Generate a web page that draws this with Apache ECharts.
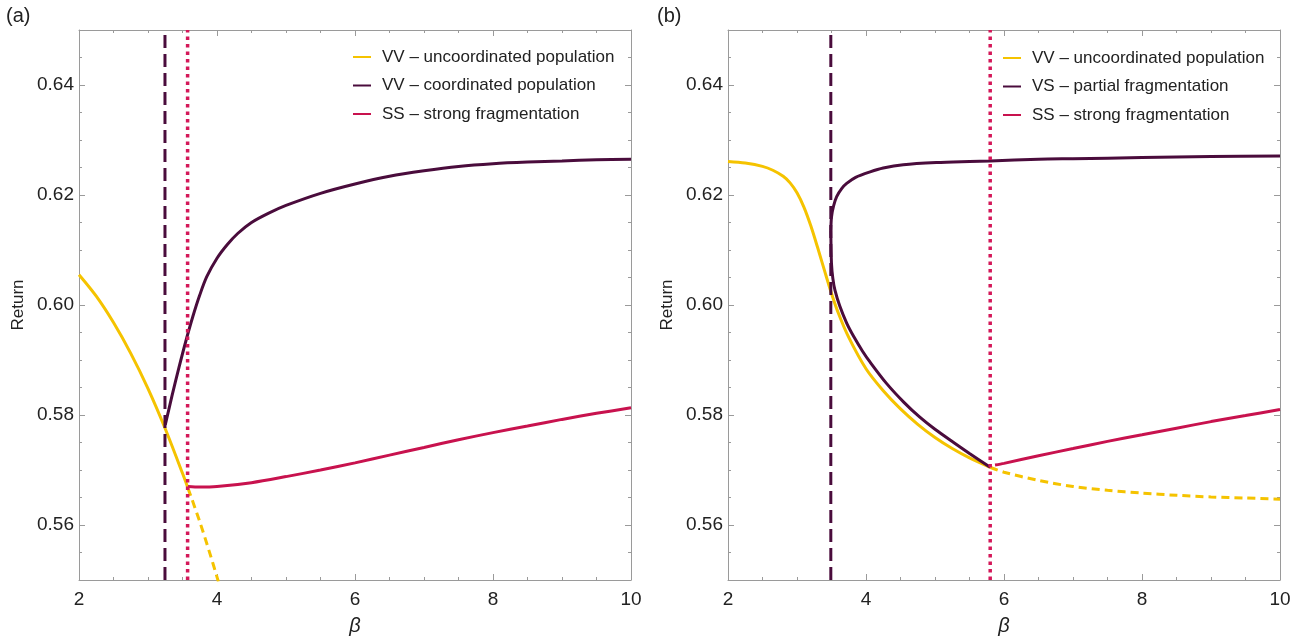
<!DOCTYPE html>
<html>
<head>
<meta charset="utf-8">
<script src="https://cdn.jsdelivr.net/npm/echarts@6/dist/echarts.min.js"></script>
<style>
  html, body { margin: 0; padding: 0; background: #fff; }
  #chart { width: 1301px; height: 644px; }
</style>
</head>
<body>
<div id="chart"></div>
<script>
// tick positions
const yMajorTicks = [0.56, 0.58, 0.60, 0.62, 0.64]
const yMinorTicks = [0.555, 0.565, 0.57, 0.575, 0.585, 0.59, 0.595, 0.605, 0.61, 0.615, 0.625, 0.63, 0.635, 0.645]

// panel (a)
const aBetaUnc = [2, 2.25, 2.5, 2.75, 3, 3.25, 3.5, 3.58]
const aRetUnc = [0.6055, 0.6016, 0.5968, 0.5912, 0.5848, 0.5775, 0.5694, 0.5667]
const aBetaUncDash = [3.58, 3.75, 3.9, 4.02]
const aRetUncDash = [0.5667, 0.5606, 0.5547, 0.5497]
const aBetaCoord = [3.25, 3.35, 3.45, 3.55, 3.65, 3.75, 3.85, 4.0, 4.15, 4.3, 4.5, 4.75, 5.0, 5.5, 6.0, 6.5, 7.0, 7.5, 8.0, 8.5, 9.0, 9.5, 10]
const aRetCoord = [0.5782, 0.5836, 0.5887, 0.5935, 0.5979, 0.6018, 0.6051, 0.6085, 0.6110, 0.6130, 0.6150, 0.6167, 0.6181, 0.6203, 0.6220, 0.6234, 0.6244, 0.6252, 0.6257, 0.6260, 0.6262, 0.6264, 0.6265]
const aBetaStrong = [3.58, 3.75, 4.0, 4.5, 5.0, 5.5, 6.0, 6.5, 7.0, 7.5, 8.0, 8.5, 9.0, 9.5, 10]
const aRetStrong = [0.5670, 0.5669, 0.5670, 0.5677, 0.5688, 0.5700, 0.5713, 0.5727, 0.5741, 0.5755, 0.5768, 0.5780, 0.5792, 0.5803, 0.5813]
const aDashedBeta = 3.246
const aDottedBeta = 3.574

// panel (b)
const bBetaUnc = [2, 2.25, 2.5, 2.65, 2.8, 2.9, 3.0, 3.1, 3.2, 3.3, 3.4, 3.5, 3.6, 3.75, 4.0, 4.25, 4.5, 4.75, 5.0, 5.25, 5.5, 5.8]
const bRetUnc = [0.6261, 0.6258, 0.6252, 0.6245, 0.6234, 0.6222, 0.6204, 0.6178, 0.6144, 0.6104, 0.6062, 0.6021, 0.5985, 0.5941, 0.5884, 0.5844, 0.5811, 0.5783, 0.5759, 0.5739, 0.5722, 0.5705]
const bBetaUncDash = [5.8, 6.0, 6.5, 7.0, 7.5, 8.0, 8.5, 9.0, 9.5, 10]
const bRetUncDash = [0.5705, 0.5696, 0.5681, 0.5670, 0.5663, 0.5658, 0.5654, 0.5651, 0.5649, 0.5647]
const bBetaPartUp = [3.49, 3.5, 3.53, 3.575, 3.65, 3.72, 3.85, 4.06, 4.25, 4.54, 5.02, 5.5, 5.8, 6.5, 7.0, 8.0, 9.0, 10]
const bRetPartUp = [0.6135, 0.6160, 0.6180, 0.6197, 0.6212, 0.6221, 0.6232, 0.6242, 0.6249, 0.6255, 0.6259, 0.6261, 0.6262, 0.6265, 0.6266, 0.6268, 0.6270, 0.6271]
const bBetaPartLow = [3.49, 3.5, 3.52, 3.55, 3.62, 3.72, 3.82, 3.95, 4.06, 4.3, 4.55, 4.78, 5.0, 5.27, 5.5, 5.8]
const bRetPartLow = [0.6135, 0.6075, 0.6048, 0.6027, 0.5998, 0.5967, 0.5943, 0.5916, 0.5896, 0.5857, 0.5823, 0.5796, 0.5774, 0.5750, 0.5730, 0.5705]
const bBetaStrong = [5.87, 6.0, 6.5, 7.0, 7.5, 8.0, 8.5, 9.0, 9.5, 10]
const bRetStrong = [0.5709, 0.5712, 0.5726, 0.5739, 0.5752, 0.5764, 0.5776, 0.5788, 0.5799, 0.5810]
const bDashedBeta = 3.49
const bDottedBeta = 5.80

const yMin = 0.55
const yMax = 0.65

const YELLOW = '#F5C300'
const PURPLE = '#4A0C3C'
const RED = '#C8124E'
const DOT_RED = '#D41859'
const FRAME = '#9a9a9a'
const FONT = 'Liberation Sans, Arial, sans-serif'

const zip = (xs, ys) => xs.map((x, i) => [x, ys[i]])

const chart = echarts.init(document.getElementById('chart'))

const grids = [
  { left: 79, top: 30, width: 552, height: 550 },
  { left: 728, top: 30, width: 552, height: 550 }
]

const xAxes = []
const yAxes = []
grids.forEach((g, gi) => {
  // bottom axis with labels
  xAxes.push({
    gridIndex: gi, type: 'value', min: 2, max: 10, interval: 2, position: 'bottom',
    name: 'β', nameLocation: 'middle', nameGap: 36,
    nameTextStyle: { fontFamily: FONT, fontSize: 20, fontStyle: 'italic', color: '#222' },
    axisLine: { lineStyle: { color: FRAME, width: 1 } },
    axisTick: { inside: true, length: 6, lineStyle: { color: FRAME } },
    minorTick: { show: true, splitNumber: 4, length: 3, lineStyle: { color: FRAME } },
    axisLabel: { fontFamily: FONT, fontSize: 19, color: '#222', margin: 10 },
    splitLine: { show: false }
  })
  // top frame
  xAxes.push({
    gridIndex: gi, type: 'value', min: 2, max: 10, interval: 2, position: 'top',
    axisLine: { lineStyle: { color: FRAME, width: 1 } },
    axisTick: { inside: true, length: 6, lineStyle: { color: FRAME } },
    minorTick: { show: true, splitNumber: 4, length: 3, lineStyle: { color: FRAME } },
    axisLabel: { show: false },
    splitLine: { show: false }
  })
  // left major with labels
  yAxes.push({
    gridIndex: gi, type: 'value', min: yMin, max: yMax, position: 'left',
    name: 'Return', nameLocation: 'middle', nameGap: 52,
    nameTextStyle: { fontFamily: FONT, fontSize: 17, color: '#222' },
    axisLine: { lineStyle: { color: FRAME, width: 1 } },
    axisTick: { inside: true, length: 6, customValues: yMajorTicks, lineStyle: { color: FRAME } },
    axisLabel: { customValues: yMajorTicks, fontFamily: FONT, fontSize: 19, color: '#222', margin: 5,
      formatter: v => v.toFixed(2) },
    splitLine: { show: false }
  })
  // left minor
  yAxes.push({
    gridIndex: gi, type: 'value', min: yMin, max: yMax, position: 'left',
    axisLine: { show: false },
    axisTick: { inside: true, length: 3, customValues: yMinorTicks, lineStyle: { color: FRAME } },
    axisLabel: { show: false },
    splitLine: { show: false }
  })
  // right major
  yAxes.push({
    gridIndex: gi, type: 'value', min: yMin, max: yMax, position: 'right',
    axisLine: { lineStyle: { color: FRAME, width: 1 } },
    axisTick: { inside: true, length: 6, customValues: yMajorTicks, lineStyle: { color: FRAME } },
    axisLabel: { show: false },
    splitLine: { show: false }
  })
  // right minor
  yAxes.push({
    gridIndex: gi, type: 'value', min: yMin, max: yMax, position: 'right',
    axisLine: { show: false },
    axisTick: { inside: true, length: 3, customValues: yMinorTicks, lineStyle: { color: FRAME } },
    axisLabel: { show: false },
    splitLine: { show: false }
  })
})

function curve(gi, name, xs, ys, color, type, z) {
  return {
    type: 'line', name: name, xAxisIndex: gi * 2, yAxisIndex: gi * 4,
    data: zip(xs, ys), showSymbol: false, symbol: 'none',
    smooth: 0.3, clip: true,
    color: color, itemStyle: { color: color },
    lineStyle: { color: color, width: 3, type: type || 'solid', cap: 'butt' },
    z: z || 2, silent: true, animation: false
  }
}

function vline(gi, beta, color, dash, width, z) {
  return {
    type: 'line', name: 'vline', xAxisIndex: gi * 2, yAxisIndex: gi * 4,
    data: [[beta, yMin], [beta, yMax]], showSymbol: false, symbol: 'none',
    lineStyle: { color: color, width: width, type: dash, cap: 'butt' },
    z: z || 3, silent: true, animation: false
  }
}

const series = [
  // (a)
  curve(0, 'VV – uncoordinated population', aBetaUnc, aRetUnc, YELLOW),
  curve(0, 'yellow dashed a', aBetaUncDash, aRetUncDash, YELLOW, [8, 5]),
  curve(0, 'VV – coordinated population', aBetaCoord, aRetCoord, PURPLE),
  curve(0, 'SS – strong fragmentation', aBetaStrong, aRetStrong, RED),
  vline(0, aDashedBeta, PURPLE, [13, 6], 3, 3),
  vline(0, aDottedBeta, DOT_RED, [3.5, 4], 3.5, 4),
  // (b)
  curve(1, 'VV – uncoordinated population', bBetaUnc, bRetUnc, YELLOW),
  curve(1, 'yellow dashed b', bBetaUncDash, bRetUncDash, YELLOW, [8, 5]),
  curve(1, 'VS – partial fragmentation', bBetaPartLow, bRetPartLow, PURPLE),
  curve(1, 'VS – partial fragmentation', bBetaPartUp, bRetPartUp, PURPLE),
  curve(1, 'SS – strong fragmentation', bBetaStrong, bRetStrong, RED),
  vline(1, bDashedBeta, PURPLE, [13, 6], 3, 3),
  vline(1, bDottedBeta, DOT_RED, [3.5, 4], 3.5, 4)
]

const legendText = { fontFamily: FONT, fontSize: 17, color: '#222', padding: [0, 0, 0, 6], lineHeight: 20 }

const option = {
  animation: false,
  backgroundColor: '#fff',
  grid: grids,
  xAxis: xAxes,
  yAxis: yAxes,
  legend: [
    {
      orient: 'vertical', left: 353, top: 47, padding: 0, itemWidth: 18, itemHeight: 2, itemGap: 8.5,
      icon: 'rect', textStyle: legendText, selectedMode: false,
      data: ['VV – uncoordinated population', 'VV – coordinated population', 'SS – strong fragmentation']
    },
    {
      orient: 'vertical', left: 1003, top: 48, padding: 0, itemWidth: 18, itemHeight: 2, itemGap: 8.5,
      icon: 'rect', textStyle: legendText, selectedMode: false,
      data: ['VV – uncoordinated population', 'VS – partial fragmentation', 'SS – strong fragmentation']
    }
  ],
  graphic: [
    { type: 'text', left: 6, top: 6, style: { text: '(a)', fontFamily: FONT, fontSize: 20, fill: '#222' } },
    { type: 'text', left: 657, top: 6, style: { text: '(b)', fontFamily: FONT, fontSize: 20, fill: '#222' } }
  ],
  series: series
}

chart.setOption(option)
</script>
</body>
</html>
